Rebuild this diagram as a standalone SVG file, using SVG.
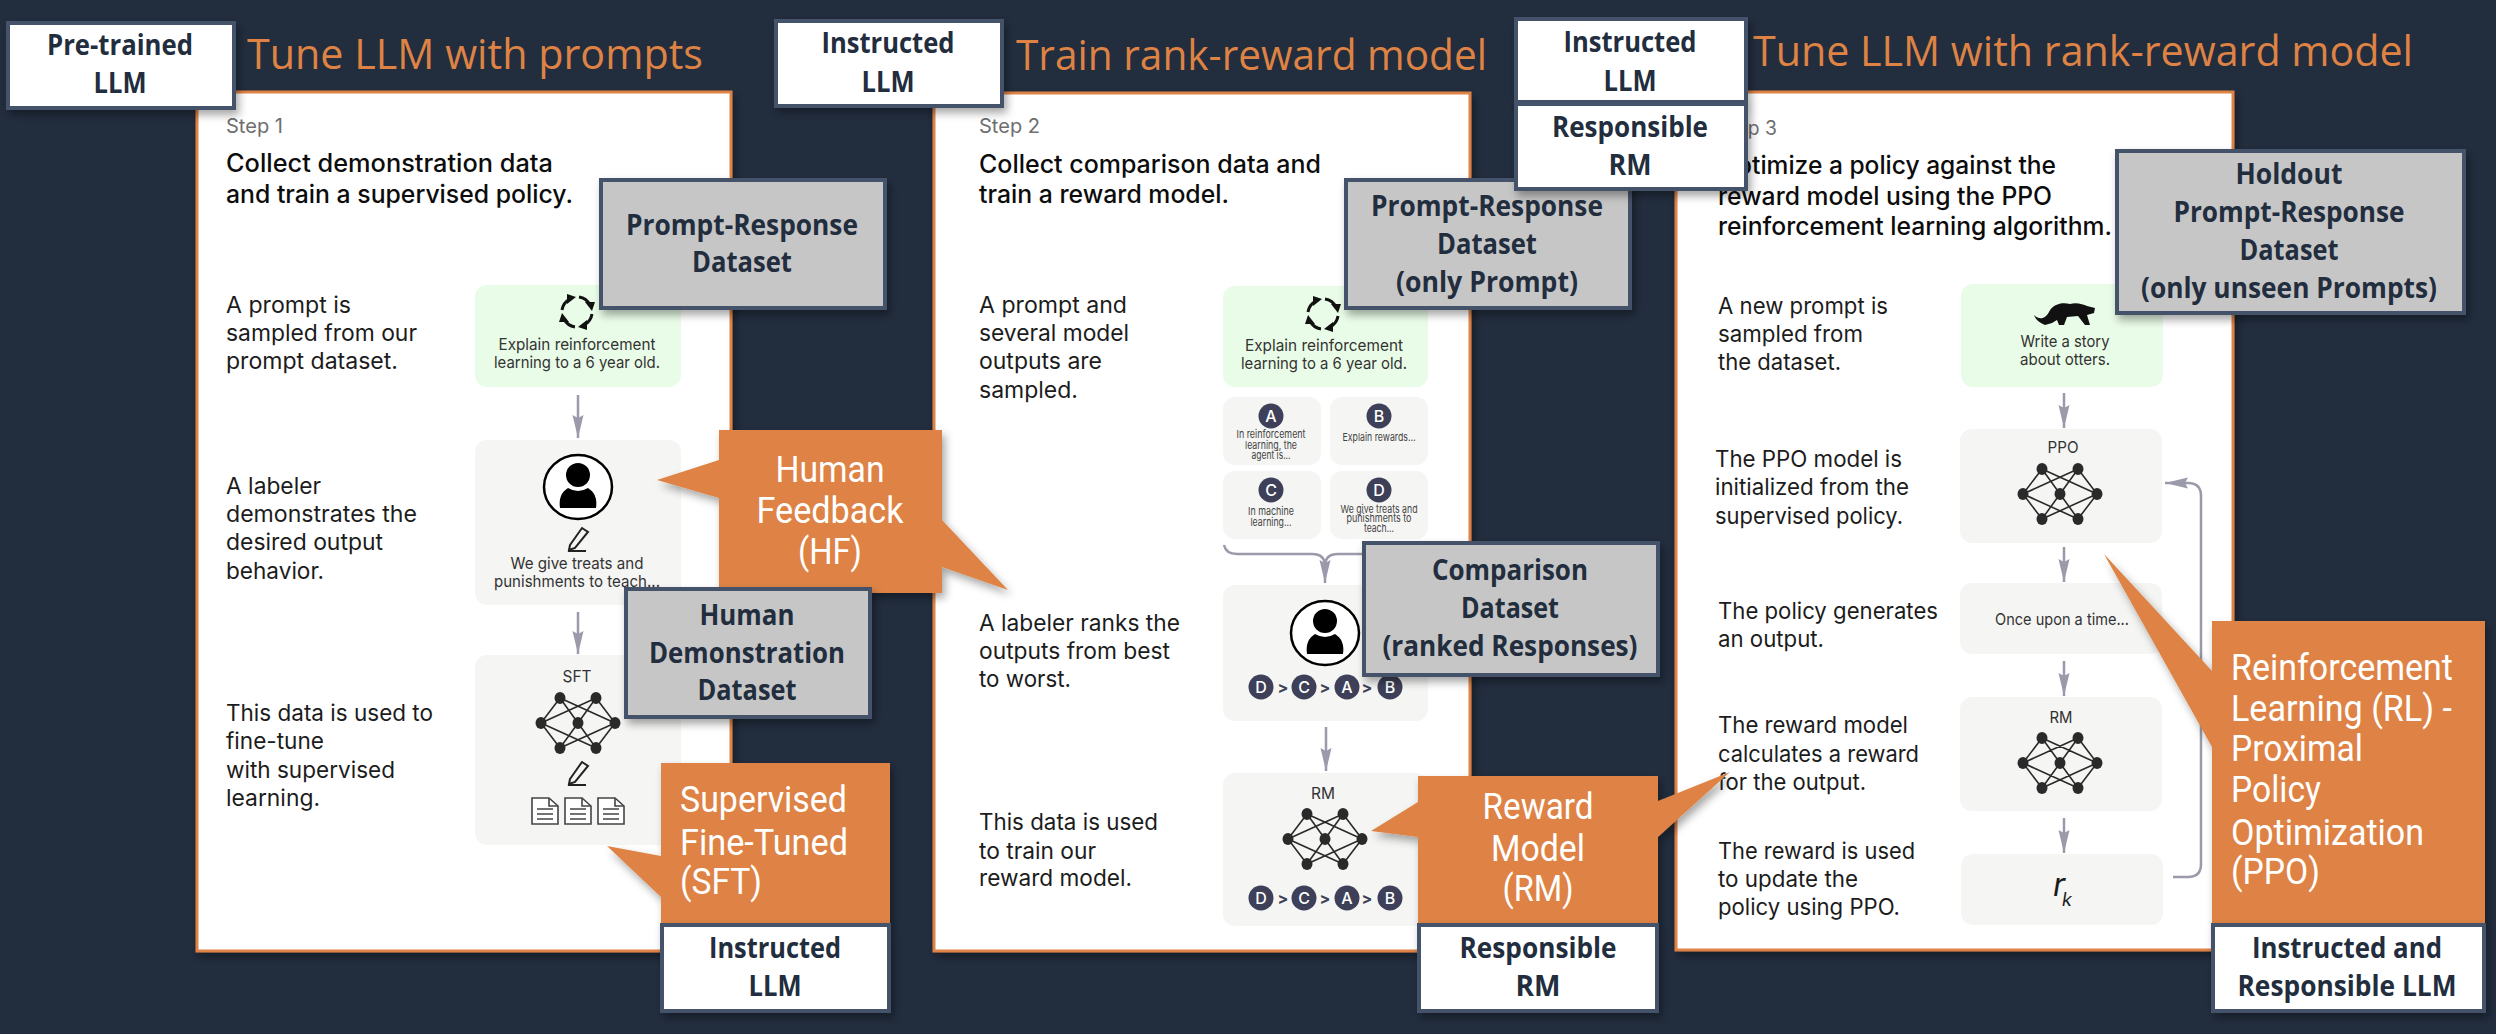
<svg xmlns="http://www.w3.org/2000/svg" xmlns:xlink="http://www.w3.org/1999/xlink" width="2496" height="1034" viewBox="0 0 2496 1034">
<style>
text{font-family:"Inter","Liberation Sans",sans-serif;fill:#1b1b1b}
.title{font-family:"Open Sans","Noto Sans",sans-serif;font-size:42px;font-weight:500;fill:#de8344}
.lab{font-family:"Open Sans","Noto Sans",sans-serif;font-weight:700;font-size:29px;fill:#222d3e;text-anchor:middle}
.co{font-family:"Roboto","Liberation Sans",sans-serif;font-size:37px;fill:#fff}
.m{text-anchor:middle}
.step{font-size:20px;fill:#6e6e6e}
.head{font-size:25px;font-weight:500;fill:#0c0c0c}
.body{font-size:22.5px;fill:#1c1c1c}
.sm{font-size:16.5px;text-anchor:middle;fill:#333}
.xs{font-size:11px;text-anchor:middle;fill:#444}
.l{font-size:16px;text-anchor:middle;fill:#fff;font-weight:500}
.gt{font-size:16px;text-anchor:middle;fill:#3d4058;font-weight:700}
.panel{fill:#fff;stroke:#de8344;stroke-width:3}
.green{fill:#e9fce7}
.card{fill:#f5f5f3}
.white{fill:#fff;stroke:#45526a;stroke-width:4}
.gray{fill:#c6c6c6;stroke:#45526a;stroke-width:4}
.orange{fill:#de8344}
.conn{fill:none;stroke:#9a9aaa;stroke-width:2.5}
.badge{fill:#3d4058}
</style>
<defs>
<filter id="sh" x="-20%" y="-20%" width="140%" height="140%"><feDropShadow dx="3" dy="5" stdDeviation="4" flood-color="#000" flood-opacity=".35"/></filter>
<marker id="arr" markerUnits="userSpaceOnUse" markerWidth="24" markerHeight="12" refX="23" refY="6" orient="auto"><path d="M0 .5L23 6L0 11.5L3 6Z" fill="#9a9aaa"/></marker>
<g id="net" stroke="#2a2a2a" stroke-width="1.6" fill="#2a2a2a">
<path fill="none" d="M-18 -25L-37 0M-18 -25L0 0M-18 -25L37 0M18 -25L37 0M18 -25L0 0M18 -25L-37 0M-18 25L-37 0M-18 25L0 0M-18 25L37 0M18 25L37 0M18 25L0 0M18 25L-37 0"/>
<g stroke="none"><ellipse cx="-18" cy="-25" rx="5.5" ry="6"/><ellipse cx="18" cy="-25" rx="5.5" ry="6"/><ellipse cx="-37" rx="5.5" ry="6"/><ellipse rx="5.5" ry="6"/><ellipse cx="37" rx="5.5" ry="6"/><ellipse cx="-18" cy="25" rx="5.5" ry="6"/><ellipse cx="18" cy="25" rx="5.5" ry="6"/></g>
</g>
<g id="person"><ellipse rx="34" ry="32" fill="#fff" stroke="#000" stroke-width="2.5"/><ellipse cy="-12" rx="12" ry="12"/><path d="M-18 21Q-20 7 -10 1Q0 7 10 1Q20 7 18 21Z"/></g>
<g id="pencil" fill="none" stroke="#222" stroke-width="2"><path d="M-8 6L4 -11L10 -7L-3 9L-9 11Z"/><path d="M-10 12H8"/></g>
<g id="doc" fill="#fff" stroke="#444" stroke-width="1.6"><path d="M-13 -13H4L13 -5V13H-13Z"/><path d="M4 -13V-5H13M-8 -2H8M-8 3H8M-8 8H8" fill="none"/></g>
<g id="arc"><path d="M-15 -2A15 15 0 0 1 -7 -13" fill="none" stroke="#111" stroke-width="3"/><path d="M-1 -15L-10 -8L-10 -18Z" fill="#111"/></g>
<g id="cycle"><use href="#arc"/><use href="#arc" transform="rotate(90)"/><use href="#arc" transform="rotate(180)"/><use href="#arc" transform="rotate(270)"/></g>
</defs>
<rect width="2496" height="1034" fill="#222d3e"/>

<g id="panel1">
<rect class="panel" x="197" y="92" width="534" height="859" filter="url(#sh)"/>
<text class="step" x="226" y="133" textLength="57" lengthAdjust="spacingAndGlyphs">Step 1</text>
<text class="head" x="226" y="172" textLength="327" lengthAdjust="spacingAndGlyphs">Collect demonstration data</text>
<text class="head" x="226" y="203" textLength="347" lengthAdjust="spacingAndGlyphs">and train a supervised policy.</text>
<text class="body" x="226" y="313" textLength="125" lengthAdjust="spacingAndGlyphs">A prompt is</text>
<text class="body" x="226" y="341" textLength="191" lengthAdjust="spacingAndGlyphs">sampled from our</text>
<text class="body" x="226" y="369" textLength="172" lengthAdjust="spacingAndGlyphs">prompt dataset.</text>
<text class="body" x="226" y="494" textLength="95" lengthAdjust="spacingAndGlyphs">A labeler</text>
<text class="body" x="226" y="522" textLength="191" lengthAdjust="spacingAndGlyphs">demonstrates the</text>
<text class="body" x="226" y="550" textLength="157" lengthAdjust="spacingAndGlyphs">desired output</text>
<text class="body" x="226" y="579" textLength="98" lengthAdjust="spacingAndGlyphs">behavior.</text>
<text class="body" x="226" y="721" textLength="207" lengthAdjust="spacingAndGlyphs">This data is used to</text>
<text class="body" x="226" y="749" textLength="98" lengthAdjust="spacingAndGlyphs">fine-tune</text>
<text class="body" x="226" y="778" textLength="169" lengthAdjust="spacingAndGlyphs">with supervised</text>
<text class="body" x="226" y="806" textLength="94" lengthAdjust="spacingAndGlyphs">learning.</text>
<rect class="green" x="475" y="285" width="206" height="102" rx="12"/>
<use href="#cycle" x="577" y="312"/>
<text class="sm" x="577" y="350" textLength="157" lengthAdjust="spacingAndGlyphs">Explain reinforcement</text>
<text class="sm" x="577" y="368" textLength="166" lengthAdjust="spacingAndGlyphs">learning to a 6 year old.</text>
<rect class="card" x="475" y="440" width="206" height="165" rx="12"/>
<use href="#person" x="578" y="487"/>
<use href="#pencil" x="578" y="539"/>
<text class="sm" x="577" y="569" textLength="133" lengthAdjust="spacingAndGlyphs">We give treats and</text>
<text class="sm" x="577" y="587" textLength="166" lengthAdjust="spacingAndGlyphs">punishments to teach...</text>
<rect class="card" x="475" y="655" width="206" height="190" rx="12"/>
<text class="sm" x="577" y="682" textLength="29" lengthAdjust="spacingAndGlyphs">SFT</text>
<use href="#net" x="578" y="723"/>
<use href="#pencil" x="578" y="773"/>
<use href="#doc" x="545" y="811"/><use href="#doc" x="578" y="811"/><use href="#doc" x="611" y="811"/>
</g>

<g id="panel2">
<rect class="panel" x="934" y="93" width="536" height="858" filter="url(#sh)"/>
<text class="step" x="979" y="133" textLength="61" lengthAdjust="spacingAndGlyphs">Step 2</text>
<text class="head" x="979" y="173" textLength="342" lengthAdjust="spacingAndGlyphs">Collect comparison data and</text>
<text class="head" x="979" y="203" textLength="250" lengthAdjust="spacingAndGlyphs">train a reward model.</text>
<text class="body" x="979" y="313" textLength="148" lengthAdjust="spacingAndGlyphs">A prompt and</text>
<text class="body" x="979" y="341" textLength="150" lengthAdjust="spacingAndGlyphs">several model</text>
<text class="body" x="979" y="369" textLength="123" lengthAdjust="spacingAndGlyphs">outputs are</text>
<text class="body" x="979" y="398" textLength="99" lengthAdjust="spacingAndGlyphs">sampled.</text>
<text class="body" x="979" y="631" textLength="201" lengthAdjust="spacingAndGlyphs">A labeler ranks the</text>
<text class="body" x="979" y="659" textLength="191" lengthAdjust="spacingAndGlyphs">outputs from best</text>
<text class="body" x="979" y="687" textLength="92" lengthAdjust="spacingAndGlyphs">to worst.</text>
<text class="body" x="979" y="830" textLength="179" lengthAdjust="spacingAndGlyphs">This data is used</text>
<text class="body" x="979" y="859" textLength="117" lengthAdjust="spacingAndGlyphs">to train our</text>
<text class="body" x="979" y="886" textLength="153" lengthAdjust="spacingAndGlyphs">reward model.</text>
<rect class="green" x="1223" y="286" width="205" height="101" rx="12"/>
<use href="#cycle" x="1323" y="314"/>
<text class="sm" x="1324" y="351" textLength="158" lengthAdjust="spacingAndGlyphs">Explain reinforcement</text>
<text class="sm" x="1324" y="369" textLength="166" lengthAdjust="spacingAndGlyphs">learning to a 6 year old.</text>
<rect class="card" x="1223" y="397" width="98" height="68" rx="12"/>
<rect class="card" x="1330" y="397" width="98" height="68" rx="12"/>
<rect class="card" x="1223" y="471" width="98" height="68" rx="12"/>
<rect class="card" x="1330" y="471" width="98" height="68" rx="12"/>
<circle class="badge" cx="1271" cy="416" r="12.5"/><text class="l" x="1271" y="422">A</text>
<circle class="badge" cx="1379" cy="416" r="12.5"/><text class="l" x="1379" y="422">B</text>
<circle class="badge" cx="1271" cy="490" r="12.5"/><text class="l" x="1271" y="496">C</text>
<circle class="badge" cx="1379" cy="490" r="12.5"/><text class="l" x="1379" y="496">D</text>
<text class="xs" x="1271" y="438" textLength="69" lengthAdjust="spacingAndGlyphs">In reinforcement</text>
<text class="xs" x="1271" y="449" textLength="52" lengthAdjust="spacingAndGlyphs">learning, the</text>
<text class="xs" x="1271" y="459" textLength="39" lengthAdjust="spacingAndGlyphs">agent is...</text>
<text class="xs" x="1379" y="441" textLength="73" lengthAdjust="spacingAndGlyphs">Explain rewards...</text>
<text class="xs" x="1271" y="515" textLength="46" lengthAdjust="spacingAndGlyphs">In machine</text>
<text class="xs" x="1271" y="526" textLength="41" lengthAdjust="spacingAndGlyphs">learning...</text>
<text class="xs" x="1379" y="513" textLength="77" lengthAdjust="spacingAndGlyphs">We give treats and</text>
<text class="xs" x="1379" y="522" textLength="65" lengthAdjust="spacingAndGlyphs">punishments to</text>
<text class="xs" x="1379" y="532" textLength="30" lengthAdjust="spacingAndGlyphs">teach...</text>
<rect class="card" x="1223" y="585" width="205" height="136" rx="12"/>
<use href="#person" x="1325" y="633"/>
<circle class="badge" cx="1261" cy="687" r="12.5"/><text class="l" x="1261" y="693">D</text>
<text class="gt" x="1283" y="693">&gt;</text>
<circle class="badge" cx="1304" cy="687" r="12.5"/><text class="l" x="1304" y="693">C</text>
<text class="gt" x="1325" y="693">&gt;</text>
<circle class="badge" cx="1347" cy="687" r="12.5"/><text class="l" x="1347" y="693">A</text>
<text class="gt" x="1367" y="693">&gt;</text>
<circle class="badge" cx="1390" cy="687" r="12.5"/><text class="l" x="1390" y="693">B</text>
<rect class="card" x="1223" y="773" width="205" height="153" rx="12"/>
<text class="sm" x="1323" y="799" textLength="24" lengthAdjust="spacingAndGlyphs">RM</text>
<use href="#net" x="1325" y="839"/>
<circle class="badge" cx="1261" cy="898" r="12.5"/><text class="l" x="1261" y="904">D</text>
<text class="gt" x="1283" y="904">&gt;</text>
<circle class="badge" cx="1304" cy="898" r="12.5"/><text class="l" x="1304" y="904">C</text>
<text class="gt" x="1325" y="904">&gt;</text>
<circle class="badge" cx="1347" cy="898" r="12.5"/><text class="l" x="1347" y="904">A</text>
<text class="gt" x="1367" y="904">&gt;</text>
<circle class="badge" cx="1390" cy="898" r="12.5"/><text class="l" x="1390" y="904">B</text>
</g>

<g id="panel3">
<rect class="panel" x="1676" y="92" width="557" height="858" filter="url(#sh)"/>
<text class="step" x="1718" y="135" textLength="59" lengthAdjust="spacingAndGlyphs">Step 3</text>
<text class="head" x="1718" y="174" textLength="338" lengthAdjust="spacingAndGlyphs">Optimize a policy against the</text>
<text class="head" x="1718" y="205" textLength="334" lengthAdjust="spacingAndGlyphs">reward model using the PPO</text>
<text class="head" x="1718" y="235" textLength="394" lengthAdjust="spacingAndGlyphs">reinforcement learning algorithm.</text>
<text class="body" x="1718" y="314" textLength="170" lengthAdjust="spacingAndGlyphs">A new prompt is</text>
<text class="body" x="1718" y="342" textLength="145" lengthAdjust="spacingAndGlyphs">sampled from</text>
<text class="body" x="1718" y="370" textLength="123" lengthAdjust="spacingAndGlyphs">the dataset.</text>
<text class="body" x="1715" y="467" textLength="187" lengthAdjust="spacingAndGlyphs">The PPO model is</text>
<text class="body" x="1715" y="495" textLength="194" lengthAdjust="spacingAndGlyphs">initialized from the</text>
<text class="body" x="1715" y="524" textLength="188" lengthAdjust="spacingAndGlyphs">supervised policy.</text>
<text class="body" x="1718" y="619" textLength="220" lengthAdjust="spacingAndGlyphs">The policy generates</text>
<text class="body" x="1718" y="647" textLength="106" lengthAdjust="spacingAndGlyphs">an output.</text>
<text class="body" x="1718" y="733" textLength="190" lengthAdjust="spacingAndGlyphs">The reward model</text>
<text class="body" x="1718" y="762" textLength="201" lengthAdjust="spacingAndGlyphs">calculates a reward</text>
<text class="body" x="1718" y="790" textLength="148" lengthAdjust="spacingAndGlyphs">for the output.</text>
<text class="body" x="1718" y="859" textLength="197" lengthAdjust="spacingAndGlyphs">The reward is used</text>
<text class="body" x="1718" y="887" textLength="140" lengthAdjust="spacingAndGlyphs">to update the</text>
<text class="body" x="1718" y="915" textLength="182" lengthAdjust="spacingAndGlyphs">policy using PPO.</text>
<rect class="green" x="1961" y="284" width="202" height="103" rx="12"/>
<path id="otter" fill="#111" d="M2034 315C2040 321 2046 318 2049 312C2053 304 2062 302 2070 304C2076 302 2083 304 2087 306L2095 308L2094 313L2087 315L2090 325L2085 325L2078 316L2067 317L2064 325L2059 325L2057 320L2052 323L2045 325C2041 323 2036 321 2034 315Z"/>
<text class="sm" x="2065" y="347" textLength="89" lengthAdjust="spacingAndGlyphs">Write a story</text>
<text class="sm" x="2065" y="365" textLength="90" lengthAdjust="spacingAndGlyphs">about otters.</text>
<rect class="card" x="1960" y="429" width="202" height="114" rx="12"/>
<text class="sm" x="2063" y="453" textLength="31" lengthAdjust="spacingAndGlyphs">PPO</text>
<use href="#net" x="2060" y="494"/>
<rect class="card" x="1960" y="583" width="202" height="71" rx="12"/>
<text class="sm" x="2062" y="625" textLength="134" lengthAdjust="spacingAndGlyphs">Once upon a time...</text>
<rect class="card" x="1960" y="697" width="202" height="114" rx="12"/>
<text class="sm" x="2061" y="723" textLength="23" lengthAdjust="spacingAndGlyphs">RM</text>
<use href="#net" x="2060" y="763"/>
<rect class="card" x="1961" y="854" width="202" height="71" rx="12"/>
<text x="2053" y="896" font-size="32" font-style="italic" font-family="Liberation Sans, sans-serif">r</text>
<text x="2062" y="906" font-size="18" font-style="italic" font-family="Liberation Sans, sans-serif">k</text>
</g>

<g id="connectors" class="conn">
<path d="M578 395V438" marker-end="url(#arr)"/>
<path d="M578 612V654" marker-end="url(#arr)"/>
<path d="M1224 545Q1226 554 1237 554H1312Q1325 554 1325 566V583" marker-end="url(#arr)"/>
<path d="M1428 545Q1426 554 1415 554H1338Q1325 554 1325 566"/>
<path d="M1326 727V771" marker-end="url(#arr)"/>
<path d="M2064 393V428" marker-end="url(#arr)"/>
<path d="M2064 547V582" marker-end="url(#arr)"/>
<path d="M2064 661V696" marker-end="url(#arr)"/>
<path d="M2064 818V853" marker-end="url(#arr)"/>
<path d="M2173 877H2188Q2201 877 2201 864V496Q2201 483 2188 483H2165" marker-end="url(#arr)"/>
</g>

<text class="title" x="247" y="69" textLength="456" lengthAdjust="spacingAndGlyphs">Tune LLM with prompts</text>
<text class="title" x="1016" y="70" textLength="471" lengthAdjust="spacingAndGlyphs">Train rank-reward model</text>
<text class="title" x="1753" y="66" textLength="660" lengthAdjust="spacingAndGlyphs">Tune LLM with rank-reward model</text>

<g id="pretrained-llm"><rect class="white" x="8" y="23" width="226" height="85" filter="url(#sh)"/>
<text class="lab" x="120" y="55" textLength="146" lengthAdjust="spacingAndGlyphs">Pre-trained</text><text class="lab" x="120" y="93" textLength="53" lengthAdjust="spacingAndGlyphs">LLM</text></g>
<g id="instructed-llm-2"><rect class="white" x="776" y="21" width="226" height="85" filter="url(#sh)"/>
<text class="lab" x="888" y="53" textLength="133" lengthAdjust="spacingAndGlyphs">Instructed</text><text class="lab" x="888" y="92" textLength="53" lengthAdjust="spacingAndGlyphs">LLM</text></g>

<g id="hf-callout"><path class="orange" filter="url(#sh)" d="M719 430H942V520L1008 590L942 567V593H719V498L657 480L719 460Z"/>
<text class="co m" x="830" y="482" textLength="109" lengthAdjust="spacingAndGlyphs">Human</text>
<text class="co m" x="830" y="523" textLength="147" lengthAdjust="spacingAndGlyphs">Feedback</text>
<text class="co m" x="830" y="564" textLength="64" lengthAdjust="spacingAndGlyphs">(HF)</text></g>
<g id="prompt-response-1"><rect class="gray" x="601" y="180" width="284" height="128" filter="url(#sh)"/>
<text class="lab" x="742" y="235" textLength="232" lengthAdjust="spacingAndGlyphs">Prompt-Response</text><text class="lab" x="742" y="272" textLength="100" lengthAdjust="spacingAndGlyphs">Dataset</text></g>
<g id="human-demo"><rect class="gray" x="626" y="589" width="244" height="128" filter="url(#sh)"/>
<text class="lab" x="747" y="625" textLength="95" lengthAdjust="spacingAndGlyphs">Human</text><text class="lab" x="747" y="663" textLength="196" lengthAdjust="spacingAndGlyphs">Demonstration</text><text class="lab" x="747" y="700" textLength="99" lengthAdjust="spacingAndGlyphs">Dataset</text></g>
<g id="sft-callout"><path class="orange" filter="url(#sh)" d="M661 763H890V923H661V897L607 846L661 856Z"/>
<text class="co" x="680" y="812" textLength="167" lengthAdjust="spacingAndGlyphs">Supervised</text>
<text class="co" x="680" y="855" textLength="168" lengthAdjust="spacingAndGlyphs">Fine-Tuned</text>
<text class="co" x="680" y="894" textLength="82" lengthAdjust="spacingAndGlyphs">(SFT)</text></g>
<g id="instructed-llm-1"><rect class="white" x="662" y="925" width="227" height="86" filter="url(#sh)"/>
<text class="lab" x="775" y="958" textLength="132" lengthAdjust="spacingAndGlyphs">Instructed</text><text class="lab" x="775" y="996" textLength="53" lengthAdjust="spacingAndGlyphs">LLM</text></g>

<g id="prompt-only"><rect class="gray" x="1346" y="180" width="284" height="128" filter="url(#sh)"/>
<text class="lab" x="1487" y="216" textLength="232" lengthAdjust="spacingAndGlyphs">Prompt-Response</text><text class="lab" x="1487" y="254" textLength="100" lengthAdjust="spacingAndGlyphs">Dataset</text><text class="lab" x="1487" y="292" textLength="182" lengthAdjust="spacingAndGlyphs">(only Prompt)</text></g>
<g id="comparison"><rect class="gray" x="1364" y="543" width="294" height="132" filter="url(#sh)"/>
<text class="lab" x="1510" y="580" textLength="156" lengthAdjust="spacingAndGlyphs">Comparison</text><text class="lab" x="1510" y="618" textLength="98" lengthAdjust="spacingAndGlyphs">Dataset</text><text class="lab" x="1510" y="656" textLength="255" lengthAdjust="spacingAndGlyphs">(ranked Responses)</text></g>
<g id="rm-callout"><path class="orange" filter="url(#sh)" d="M1418 776H1658V801L1730 772L1658 837V923H1418V837L1371 831L1418 802Z"/>
<text class="co m" x="1538" y="819" textLength="111" lengthAdjust="spacingAndGlyphs">Reward</text>
<text class="co m" x="1538" y="861" textLength="94" lengthAdjust="spacingAndGlyphs">Model</text>
<text class="co m" x="1538" y="901" textLength="71" lengthAdjust="spacingAndGlyphs">(RM)</text></g>
<g id="responsible-rm-1"><rect class="white" x="1419" y="925" width="238" height="86" filter="url(#sh)"/>
<text class="lab" x="1538" y="958" textLength="157" lengthAdjust="spacingAndGlyphs">Responsible</text><text class="lab" x="1538" y="996" textLength="45" lengthAdjust="spacingAndGlyphs">RM</text></g>
<g id="instructed-llm-3"><rect class="white" x="1516" y="19" width="230" height="83" filter="url(#sh)"/>
<text class="lab" x="1630" y="52" textLength="133" lengthAdjust="spacingAndGlyphs">Instructed</text><text class="lab" x="1630" y="91" textLength="53" lengthAdjust="spacingAndGlyphs">LLM</text></g>
<g id="responsible-rm-2"><rect class="white" x="1516" y="104" width="230" height="85" filter="url(#sh)"/>
<text class="lab" x="1630" y="137" textLength="156" lengthAdjust="spacingAndGlyphs">Responsible</text><text class="lab" x="1630" y="175" textLength="43" lengthAdjust="spacingAndGlyphs">RM</text></g>

<g id="holdout"><rect class="gray" x="2117" y="151" width="347" height="162" filter="url(#sh)"/>
<text class="lab" x="2289" y="184" textLength="107" lengthAdjust="spacingAndGlyphs">Holdout</text><text class="lab" x="2289" y="222" textLength="231" lengthAdjust="spacingAndGlyphs">Prompt-Response</text><text class="lab" x="2289" y="260" textLength="99" lengthAdjust="spacingAndGlyphs">Dataset</text><text class="lab" x="2289" y="298" textLength="296" lengthAdjust="spacingAndGlyphs">(only unseen Prompts)</text></g>
<g id="rl-callout"><path class="orange" filter="url(#sh)" d="M2212 621H2485V923H2212V747L2104 554L2212 671Z"/>
<text class="co" x="2231" y="680" textLength="222" lengthAdjust="spacingAndGlyphs">Reinforcement</text>
<text class="co" x="2231" y="721" textLength="221" lengthAdjust="spacingAndGlyphs">Learning (RL) -</text>
<text class="co" x="2231" y="761" textLength="132" lengthAdjust="spacingAndGlyphs">Proximal</text>
<text class="co" x="2231" y="802" textLength="90" lengthAdjust="spacingAndGlyphs">Policy</text>
<text class="co" x="2231" y="845" textLength="193" lengthAdjust="spacingAndGlyphs">Optimization</text>
<text class="co" x="2231" y="884" textLength="89" lengthAdjust="spacingAndGlyphs">(PPO)</text></g>
<g id="instructed-responsible"><rect class="white" x="2213" y="925" width="271" height="86" filter="url(#sh)"/>
<text class="lab" x="2347" y="958" textLength="190" lengthAdjust="spacingAndGlyphs">Instructed and</text><text class="lab" x="2347" y="996" textLength="219" lengthAdjust="spacingAndGlyphs">Responsible LLM</text></g>
</svg>
